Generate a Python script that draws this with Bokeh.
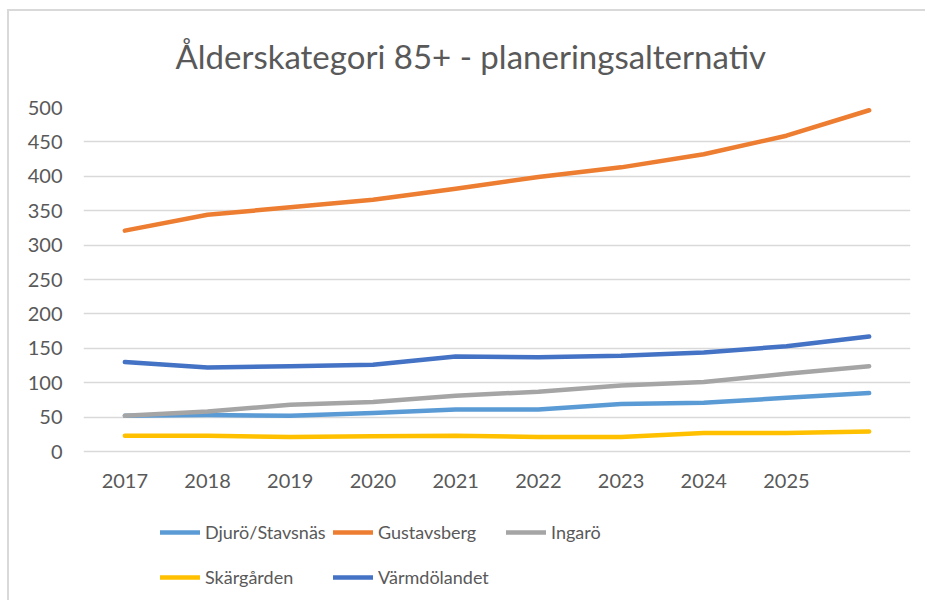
from bokeh.plotting import figure
from bokeh.models import Range1d, FixedTicker, Legend, LegendItem
from bokeh.embed import file_html
from bokeh.resources import INLINE

years = [2017, 2018, 2019, 2020, 2021, 2022, 2023, 2024, 2025, 2026]
tick_years = [2017, 2018, 2019, 2020, 2021, 2022, 2023, 2024, 2025]
y_ticks = [0, 50, 100, 150, 200, 250, 300, 350, 400, 450, 500]

djuro = [52, 53, 52, 56, 61, 61, 69, 71, 78, 85]
gustavsberg = [321, 344, 355, 366, 382, 399, 413, 432, 459, 496]
ingaro = [52, 58, 68, 72, 81, 87, 96, 101, 113, 124]
skargarden = [23, 23, 21, 22, 23, 21, 21, 27, 27, 29]
varmdolandet = [130, 122, 124, 126, 138, 137, 139, 144, 153, 167]

series = [
    ("Djurö/Stavsnäs", djuro, "#5B9BD5"),
    ("Gustavsberg", gustavsberg, "#ED7D31"),
    ("Ingarö", ingaro, "#A5A5A5"),
    ("Skärgården", skargarden, "#FFC000"),
    ("Värmdölandet", varmdolandet, "#4472C4"),
]

FONT = "Lato"
TXT = "#595959"

# layout (pixels); the plot frame extends below the value axis so the legend
# fits inside it
W, H = 925, 600
TOP, LEFT, RIGHT = 107, 83, 15
ZERO_PX = 451            # pixel row of value 0
PX_PER_UNIT = (ZERO_PX - TOP) / 500.0
y_start = -(H - ZERO_PX) / PX_PER_UNIT

p = figure(width=W, height=H, output_backend="svg", toolbar_location=None,
           x_range=Range1d(2016.5, 2026.5), y_range=Range1d(y_start, 500),
           min_border_left=LEFT, min_border_right=RIGHT, min_border_top=TOP,
           min_border_bottom=0)
p.border_fill_alpha = 0
p.background_fill_color = "white"
# thin chart-area edge (top and left) like the original's chart border
p.styles = {"background": "linear-gradient(#D9D9D9, #D9D9D9) 7px 9px / 100% 2px no-repeat, "
                          "linear-gradient(#D9D9D9, #D9D9D9) 7px 9px / 2px 100% no-repeat, white"}

p.title.text = "Ålderskategori 85+ - planeringsalternativ"
p.title.text_font = FONT
p.title.text_font_size = "33px"
p.title.text_font_style = "normal"
p.title.text_color = TXT
p.title.align = "left"
p.title.offset = 92
p.title.standoff = 63

p.outline_line_color = None
p.xgrid.grid_line_color = None
p.ygrid.grid_line_color = "#D9D9D9"
p.ygrid.grid_line_width = 1.5
p.ygrid.ticker = FixedTicker(ticks=y_ticks)

p.xaxis.ticker = FixedTicker(ticks=tick_years)
p.xaxis.fixed_location = 0
p.yaxis.ticker = FixedTicker(ticks=y_ticks)
for ax in (p.xaxis[0], p.yaxis[0]):
    ax.axis_line_color = None
    ax.major_tick_line_color = None
    ax.minor_tick_line_color = None
    ax.major_tick_out = 0
    ax.major_tick_in = 0
    ax.minor_tick_out = 0
    ax.minor_tick_in = 0
    ax.major_label_text_font = FONT
    ax.major_label_text_font_size = "20px"
    ax.major_label_text_color = TXT
p.yaxis.major_label_standoff = 21
p.xaxis.major_label_standoff = 22

items = []
for name, vals, col in series:
    r = p.line(years, vals, line_color=col, line_width=4.5, line_cap="round", line_join="round")
    items.append(LegendItem(label=name, renderers=[r]))

legend = Legend(items=items, orientation="horizontal", ncols=3, location=(77, 3),
                glyph_width=40, glyph_height=40, label_height=40, label_width=123,
                label_standoff=5, spacing=5, padding=0, margin=0,
                border_line_color=None, background_fill_alpha=0,
                label_text_font=FONT, label_text_font_size="18px",
                label_text_color=TXT)
p.add_layout(legend, "center")

open("out.html", "w").write(file_html(p, INLINE))
